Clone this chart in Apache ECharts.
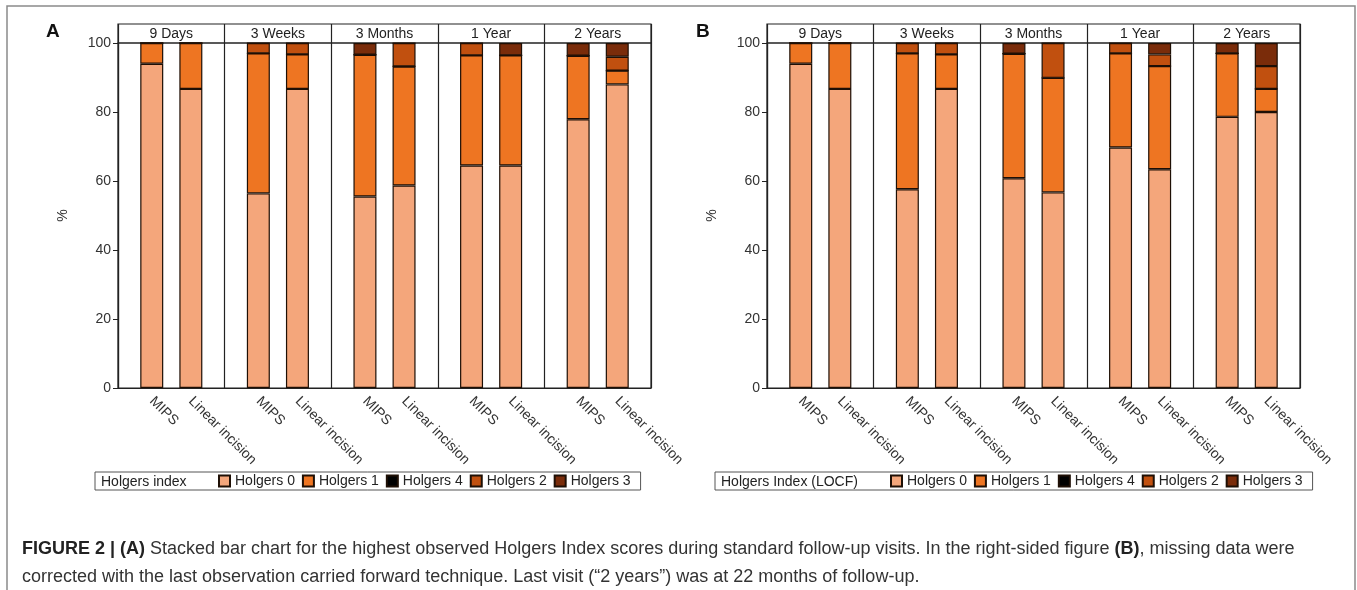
<!DOCTYPE html>
<html>
<head>
<meta charset="utf-8">
<script src="https://cdn.jsdelivr.net/npm/echarts@6/dist/echarts.min.js"></script>
<style>
  html, body { margin: 0; padding: 0; background: #fff; }
  #chart { width: 1357px; height: 590px; }
</style>
</head>
<body>
<div id="chart"></div>
<script>
// categories
const periods = ["9 Days", "3 Weeks", "3 Months", "1 Year", "2 Years"];
const arms = ["MIPS", "Linear incision"];
const levels = ["Holgers 0", "Holgers 1", "Holgers 4", "Holgers 2", "Holgers 3"];
const levelColors = ["#f4a67b", "#ee7522", "#000000", "#c1500f", "#7a2c0a"];

// values in %, one entry per period
// panel A (observed)
const obsMipsH0 = [94, 56.4, 55.5, 64.5, 77.9];
const obsMipsH1 = [6, 40.6, 41.1, 31.9, 18.4];
const obsMipsH4 = [0, 0, 0, 0, 0];
const obsMipsH2 = [0, 3, 0, 3.6, 0];
const obsMipsH3 = [0, 0, 3.4, 0, 3.7];

const obsLinH0 = [86.7, 86.7, 58.7, 64.5, 88];
const obsLinH1 = [13.3, 10, 34.5, 31.9, 4];
const obsLinH4 = [0, 0, 0, 0, 0];
const obsLinH2 = [0, 3.3, 6.8, 0, 4];
const obsLinH3 = [0, 0, 0, 3.6, 4];

// panel B (LOCF)
const locfMipsH0 = [94, 57.6, 60.8, 69.7, 78.6];
const locfMipsH1 = [6, 39.4, 36.1, 27.3, 18.4];
const locfMipsH4 = [0, 0, 0, 0, 0];
const locfMipsH2 = [0, 3, 0, 3, 0];
const locfMipsH3 = [0, 0, 3.1, 0, 3];

const locfLinH0 = [86.7, 86.7, 56.7, 63.4, 80];
const locfLinH1 = [13.3, 10, 33.2, 29.9, 6.7];
const locfLinH4 = [0, 0, 0, 0, 0];
const locfLinH2 = [0, 3.3, 10.1, 3.4, 6.6];
const locfLinH3 = [0, 0, 0, 3.3, 6.7];

const yTicks = [0, 20, 40, 60, 80, 100];

const FONT = "'Liberation Sans', Arial, Helvetica, sans-serif";

// label positions under each bar on a 0..5 helper axis
const armOffset = [-0.183, 0.183];
let labelPos = [];
let labelText = [];
periods.forEach((p, i) => {
  arms.forEach((a, j) => {
    labelPos.push(i + 0.5 + armOffset[j]);
    labelText.push(a);
  });
});

function nearest(list, v) {
  let best = 0;
  list.forEach((x, k) => {
    if (Math.abs(x - v) < Math.abs(list[best] - v)) best = k;
  });
  return best;
}

const panels = [
  {
    left: 118,
    mips: [obsMipsH0, obsMipsH1, obsMipsH4, obsMipsH2, obsMipsH3],
    lin: [obsLinH0, obsLinH1, obsLinH4, obsLinH2, obsLinH3],
    legendLeft: 95, legendPad: 123, legendTitle: "Holgers index", letter: "A", letterX: 46
  },
  {
    left: 767,
    mips: [locfMipsH0, locfMipsH1, locfMipsH4, locfMipsH2, locfMipsH3],
    lin: [locfLinH0, locfLinH1, locfLinH4, locfLinH2, locfLinH3],
    legendLeft: 715, legendPad: 175, legendTitle: "Holgers Index (LOCF)", letter: "B", letterX: 696
  }
];

let grid = [];
let xAxis = [];
let yAxis = [];
let series = [];
let legend = [];
let title = [];
let graphic = [
  {
    type: "rect",
    shape: { x: 7, y: 6, width: 1348, height: 640 },
    style: { fill: "none", stroke: "#8a8a8a", lineWidth: 1.5 },
    silent: true
  }
];

panels.forEach((pn, p) => {
  const gMain = p * 2;
  const gHead = p * 2 + 1;
  grid.push({ left: pn.left, top: 43, width: 533, height: 345, show: true, borderColor: "#222", borderWidth: 1.2 });
  grid.push({ left: pn.left, top: 24, width: 533, height: 19, show: true, borderColor: "#222", borderWidth: 1.2 });

  // axes: 3 x axes per panel -> bars, arm labels, period header
  const xBars = xAxis.length;
  xAxis.push({
    gridIndex: gMain,
    type: "category",
    data: periods,
    axisLine: { show: true, lineStyle: { color: "#222", width: 1.2 } },
    axisTick: { show: false },
    axisLabel: { show: false },
    splitLine: { show: true, lineStyle: { color: "#222", width: 1.2 } }
  });
  xAxis.push({
    gridIndex: gMain,
    type: "value",
    min: 0,
    max: 5,
    position: "bottom",
    axisLine: { show: false },
    axisTick: { show: false },
    splitLine: { show: false },
    axisLabel: {
      customValues: labelPos,
      formatter: v => labelText[nearest(labelPos, v)],
      rotate: -45,
      margin: 11,
      fontSize: 14,
      fontFamily: FONT,
      color: "#333"
    }
  });
  xAxis.push({
    gridIndex: gHead,
    type: "category",
    data: periods,
    position: "top",
    axisLine: { show: false },
    axisTick: { show: false },
    splitLine: { show: true, lineStyle: { color: "#222", width: 1.2 } },
    axisLabel: { inside: true, margin: 3, fontSize: 14, fontFamily: FONT, color: "#222" }
  });

  const yBars = yAxis.length;
  yAxis.push({
    gridIndex: gMain,
    type: "value",
    min: yTicks[0],
    max: yTicks[yTicks.length - 1],
    interval: yTicks[1] - yTicks[0],
    name: "%",
    nameLocation: "middle",
    nameGap: 48,
    nameRotate: 90,
    nameTextStyle: { fontSize: 14, fontFamily: FONT, color: "#333" },
    axisLine: { show: true, lineStyle: { color: "#222", width: 1.2 } },
    axisTick: { show: true, length: 5, lineStyle: { color: "#222" } },
    splitLine: { show: false },
    axisLabel: { fontSize: 14, fontFamily: FONT, color: "#333", margin: 7 }
  });
  yAxis.push({ gridIndex: gHead, type: "value", show: false });

  [pn.mips, pn.lin].forEach((arm, a) => {
    levels.forEach((name, l) => {
      series.push({
        type: "bar",
        name: name,
        xAxisIndex: xBars,
        yAxisIndex: yBars,
        stack: "p" + p + "arm" + a,
        barWidth: 23,
        barGap: "70%",
        data: arm[l],
        itemStyle: { color: levelColors[l], borderColor: "#1e0f05", borderWidth: 1.2 },
        emphasis: { disabled: true }
      });
    });
  });

  legend.push({
    data: levels,
    left: pn.legendLeft,
    top: 472,
    padding: [2, 10, 2, pn.legendPad],
    borderColor: "#555",
    borderWidth: 1,
    itemWidth: 11,
    itemHeight: 11,
    itemGap: 7,
    icon: "rect",
    selectedMode: false,
    textStyle: { fontSize: 14, fontFamily: FONT, color: "#222" }
  });

  title.push({
    text: pn.legendTitle,
    left: pn.legendLeft + 6,
    top: 472,
    padding: [3, 0, 0, 0],
    textStyle: { fontSize: 14, fontWeight: "normal", fontFamily: FONT, color: "#222" }
  });

  graphic.push({
    type: "text",
    left: pn.letterX,
    top: 22,
    style: { text: pn.letter, font: "bold 19px " + FONT, fill: "#111" },
    silent: true
  });
});

title.push({
  text: "{b|FIGURE 2 | (A)} Stacked bar chart for the highest observed Holgers Index scores during standard follow-up visits. In the right-sided figure {b|(B)}, missing data were\ncorrected with the last observation carried forward technique. Last visit (\u201c2 years\u201d) was at 22 months of follow-up.",
  left: 22,
  top: 535,
  padding: 0,
  textStyle: {
    fontSize: 18,
    lineHeight: 28,
    fontWeight: "normal",
    fontFamily: FONT,
    color: "#333",
    rich: {
      b: { fontSize: 18, lineHeight: 28, fontWeight: "bold", fontFamily: FONT, color: "#222" }
    }
  }
});

const chart = echarts.init(document.getElementById("chart"));
chart.setOption({
  animation: false,
  backgroundColor: "#fff",
  title: title,
  legend: legend,
  grid: grid,
  xAxis: xAxis,
  yAxis: yAxis,
  series: series,
  graphic: graphic
});
window.onresize = () => chart.resize();
</script>
</body>
</html>
